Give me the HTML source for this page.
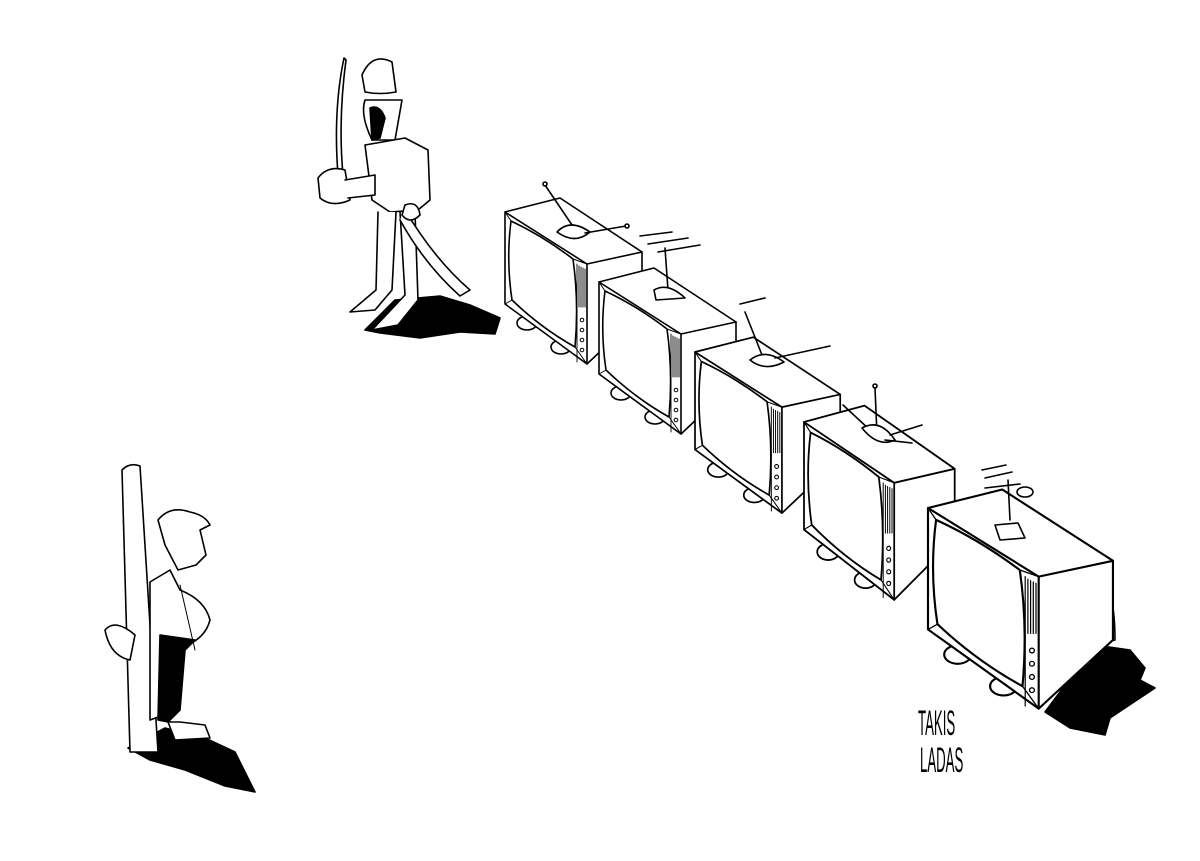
<!DOCTYPE html>
<html><head><meta charset="utf-8"><style>
html,body{margin:0;padding:0;background:#fff;}
svg{display:block}
</style></head><body>
<svg width="1200" height="861" viewBox="0 0 1200 861" xmlns="http://www.w3.org/2000/svg" fill="none" stroke="#000" stroke-width="1.6" stroke-linejoin="round" stroke-linecap="round">
<defs>
<g id="tv">
  <ellipse cx="22" cy="111" rx="10" ry="7" fill="#fff"/>
  <ellipse cx="56" cy="135" rx="10" ry="7" fill="#fff"/>
  <path d="M0 0 L55 -14 L137 40 L137 100 L82 152 L0 92 Z" fill="#fff"/>
  <path d="M0 0 L82 52 L137 40 M82 52 L82 152"/>
  <path d="M6 9 Q38 24 68 47 Q74 90 70 135 Q36 116 7 88 Q1 48 6 9 Z"/>
  <path d="M0 0 L6 9 M82 52 L68 47 M82 152 L70 135 M0 92 L7 88" stroke-width="1"/>
  <path d="M72 52 L72 150 M74 54 L74 95 M76 55 L76 95 M78 56 L78 95 M80 57 L80 95" stroke-width="0.9"/>
  <circle cx="77" cy="108" r="1.8" stroke-width="1"/><circle cx="77" cy="118" r="1.8" stroke-width="1"/><circle cx="77" cy="128" r="1.8" stroke-width="1"/><circle cx="77" cy="138" r="1.8" stroke-width="1"/>
</g>
</defs>
<rect width="1200" height="861" fill="#fff" stroke="none"/>
<!-- shadows -->
<path d="M365 330 L395 300 L440 296 L470 305 L500 318 L495 334 L460 332 L420 338 L380 333 Z" fill="#000"/>
<path d="M1045 712 L1095 645 L1130 650 L1145 668 L1140 680 L1155 688 L1110 718 L1105 735 L1070 728 Z" fill="#000"/>
<path d="M128 748 L165 728 L205 738 L235 752 L255 792 L225 786 L185 770 L150 760 Z" fill="#000"/>
<!-- TVs -->
<use href="#tv" transform="translate(505,212)"/>
<use href="#tv" transform="translate(599,282)"/>
<use href="#tv" transform="translate(695,352) scale(1.06,1.06)"/>
<use href="#tv" transform="translate(804,422) scale(1.1,1.17)"/>
<path d="M1093 568 Q1115 580 1115 640 L1093 645" fill="#fff"/>
<use href="#tv" transform="translate(928,508) scale(1.35,1.32)"/>
<!-- antennas -->
<g fill="#fff">
<path d="M545 185 L572 225"/><circle cx="545" cy="184" r="2"/>
<path d="M557 232 Q570 218 590 232 Q575 245 557 232 Z"/>
<path d="M585 233 L626 226"/><circle cx="627" cy="226" r="2"/>
<path d="M665 248 L668 290 M640 236 L672 232 M648 244 L688 238 M658 252 L700 245"/>
<path d="M654 290 Q668 282 685 298 L656 300 Z"/>
<path d="M745 312 L762 355 M740 304 L765 298"/>
<path d="M750 360 Q765 348 784 362 Q765 372 750 360 Z M775 358 L830 346"/>
<path d="M875 388 L877 435 M843 405 L870 430"/><circle cx="875" cy="386" r="2"/>
<path d="M862 428 Q880 418 895 440 Q878 448 862 428 Z M890 435 L922 425 M885 440 L912 443"/>
<path d="M1008 480 L1010 520 M985 478 L1012 472 M982 470 L1006 465 M985 488 L1020 484"/>
<ellipse cx="1025" cy="492" rx="8" ry="5"/>
<path d="M995 525 L1018 523 L1025 538 L1000 540 Z"/>
</g>
<!-- officer -->
<g fill="#fff">
<path d="M344 58 Q333 110 338 175 L343 175 Q338 120 346 60 Z"/>
<path d="M362 75 Q372 52 392 62 L396 92 Q380 95 365 92 Z"/>
<path d="M365 100 Q360 115 372 140 L395 140 L402 100 Z"/>
<path d="M370 108 Q380 104 385 118 L380 138 L372 140 Z" fill="#000"/>
<path d="M365 145 L405 138 L428 150 L430 200 L418 210 L390 212 L372 200 Z"/>
<path d="M318 178 Q328 165 345 170 L350 200 Q332 208 320 198 Z"/>
<path d="M345 180 L375 175 L375 195 L348 198"/>
<path d="M378 212 L376 290 L350 312 L375 310 L392 290 L396 212"/>
<path d="M400 212 L405 295 L372 330 L398 325 L418 300 L415 212"/>
<path d="M405 210 Q435 260 470 290 L460 296 Q425 265 400 220"/>
<path d="M405 205 Q418 200 420 215 Q410 225 402 215 Z"/>
</g>
<!-- prisoner -->
<g fill="#fff">
<path d="M122 470 Q130 462 140 466 L158 752 L130 752 Z"/>
<path d="M158 520 Q170 505 190 512 Q205 515 210 525 L200 530 L206 555 L196 565 L178 570 L165 545 Z"/>
<path d="M150 582 L170 570 L180 590 Q205 600 210 620 Q205 640 180 648 L172 712 L150 720 Z"/>
<path d="M160 635 L195 640 L185 650 L180 710 L168 722 L158 720 Z" fill="#000"/>
<path d="M168 722 L175 740 L210 738 L205 725 L180 722 Z"/>
<path d="M105 630 Q115 618 135 635 L130 660 Q110 656 105 630 Z"/>
<path d="M180 585 L195 650" stroke-width="1"/>
</g>
<!-- signature -->
<text transform="translate(918,735) scale(0.6,1.6)" font-family="Liberation Sans, sans-serif" font-size="22" fill="#000" stroke="none">TAKIS</text>
<text transform="translate(920,772) scale(0.6,1.6)" font-family="Liberation Sans, sans-serif" font-size="22" fill="#000" stroke="none">LADAS</text>
</svg>
</body></html>
